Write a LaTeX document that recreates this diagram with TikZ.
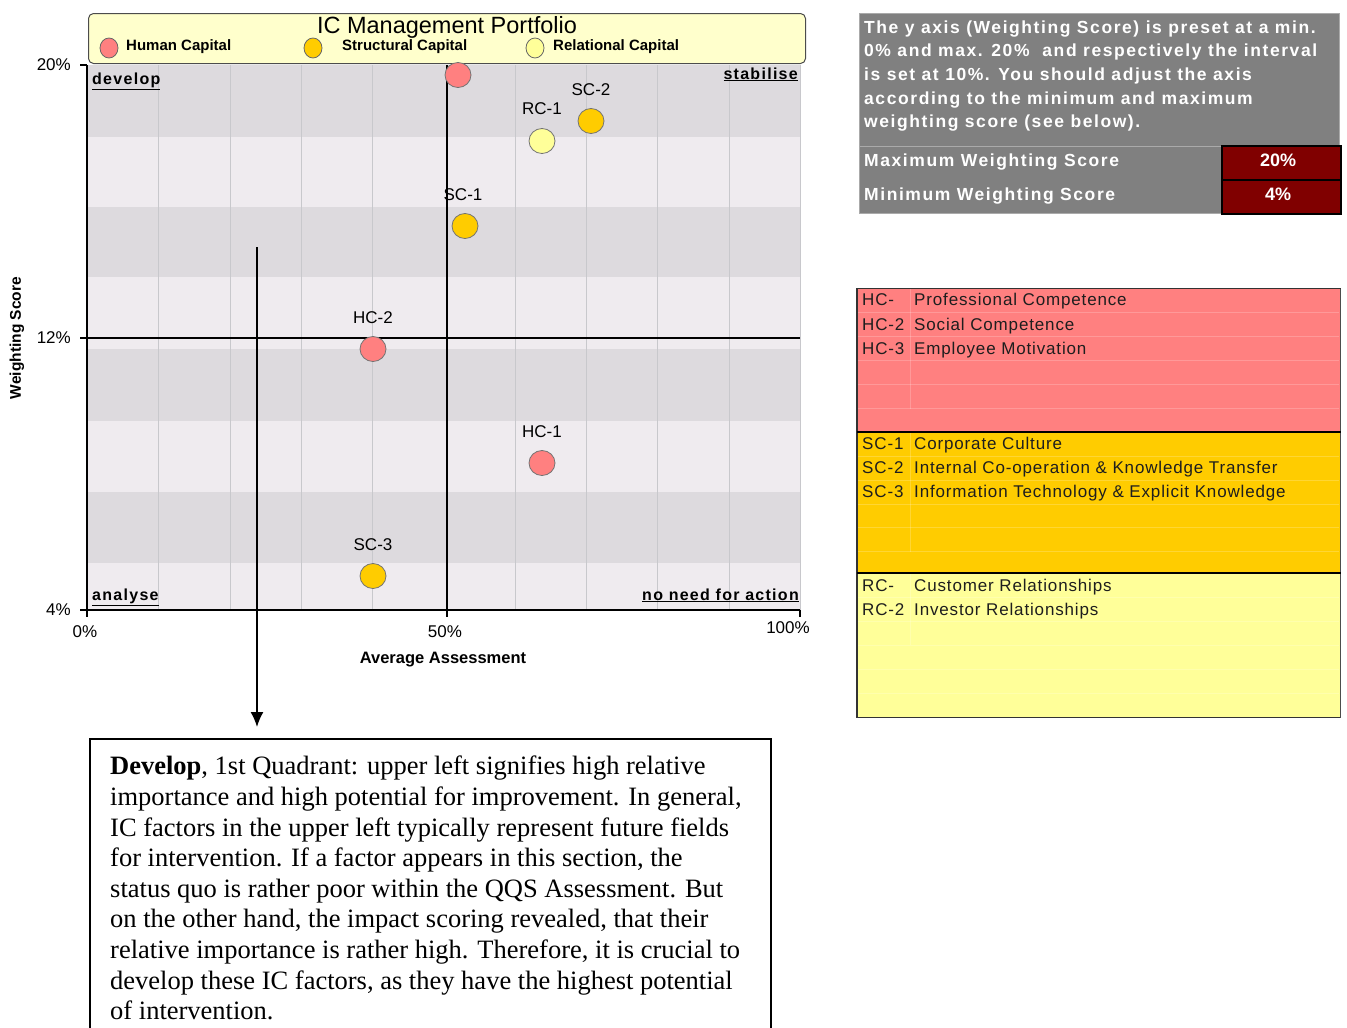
\documentclass[tikz,border=0pt]{standalone}
\usepackage{fontspec}
\setmainfont{Liberation Serif}
\setsansfont{Liberation Sans}
\newfontfamily\chartsans{Liberation Sans}
\newfontfamily\quadsans[LetterSpace=8]{Liberation Sans}
\newfontfamily\panelsans[LetterSpace=9]{Liberation Sans}
\newfontfamily\tablesans[LetterSpace=5]{Liberation Sans}
\usetikzlibrary{shapes.geometric,arrows.meta}

\definecolor{legendfill}{RGB}{255,255,204}
\definecolor{hcred}{RGB}{255,128,128}
\definecolor{scgold}{RGB}{255,204,0}
\definecolor{rcyellow}{RGB}{255,255,153}
\definecolor{bandlight}{RGB}{239,235,239}
\definecolor{banddark}{RGB}{221,218,222}
\definecolor{gridgray}{RGB}{200,200,204}
\definecolor{panelgray}{RGB}{128,128,128}
\definecolor{paneledge}{RGB}{170,170,170}
\definecolor{cellred}{RGB}{128,0,0}
\definecolor{tabletext}{RGB}{30,30,30}

\tikzset{
  pt/.style={ellipse, draw=black!55, line width=0.8pt, inner sep=0pt,
             minimum width=26pt, minimum height=25pt},
  hcpt/.style={pt, fill=hcred},
  scpt/.style={pt, fill=scgold},
  rcpt/.style={pt, fill=rcyellow},
  legdot/.style={ellipse, draw=black!60, line width=0.8pt, inner sep=0pt,
             minimum width=18pt, minimum height=20pt},
  ptlabel/.style={font=\chartsans\fontsize{17}{20}\selectfont, inner sep=0pt},
  ticklabel/.style={font=\chartsans\fontsize{17}{20}\selectfont, inner sep=0pt},
  quadlabel/.style={font=\quadsans\bfseries\fontsize{16}{19}\selectfont, inner sep=0pt},
  legtext/.style={font=\chartsans\bfseries\fontsize{15}{18}\selectfont, inner sep=0pt, anchor=west},
  paneltext/.style={font=\panelsans\bfseries\fontsize{17.5}{20}\selectfont, text=white,
             inner sep=0pt, anchor=base west},
  tabtext/.style={font=\tablesans\fontsize{17}{20}\selectfont, text=tabletext,
             inner sep=0pt, anchor=base west},
  cellval/.style={font=\chartsans\bfseries\fontsize{18}{20}\selectfont, text=white,
             inner sep=0pt, anchor=base},
  rowline/.style={white, opacity=0.2, line width=0.8pt}
}

\begin{document}
\begin{tikzpicture}[x=1pt,y=-1pt]
\clip (0,0) rectangle (1347,1028);
\fill[white] (0,0) rectangle (1347,1028);

% ---------- plot area: bands and grid ----------
\fill[bandlight] (87,65) rectangle (800,610);
\foreach \ya/\yb in {65/137,207/277,349/421,492/563}
  \fill[banddark] (87,\ya) rectangle (800,\yb);
\foreach \gx in {158,230,301,372,515,586,657,729,800}
  \draw[gridgray, line width=0.8pt] (\gx,65) -- (\gx,610);

% quadrant dividers
\draw[black, line width=1.2pt] (447,65) -- (447,610);
\draw[black, line width=1.2pt] (80,338) -- (800,338);

% axes and ticks
\draw[black, line width=1.2pt] (87,65) -- (87,610) -- (800,610);
\draw[black, line width=1.2pt] (80,65) -- (87,65);
\draw[black, line width=1.2pt] (80,610) -- (87,610);
\draw[black, line width=1.2pt] (87,610) -- (87,617);
\draw[black, line width=1.2pt] (447,610) -- (447,617);
\draw[black, line width=1.2pt] (800,610) -- (800,617);

% axis labels
\node[ticklabel, anchor=east] (y20) at (71,65) {20\%};
\node[ticklabel, anchor=east] (y12) at (71,338) {12\%};
\node[ticklabel, anchor=east] (y4) at (71,610) {4\%};
\node[ticklabel] (x0) at (85,632) {0\%};
\node[ticklabel] (x50) at (445,632) {50\%};
\node[ticklabel] (x100) at (788,628) {100\%};
\node[font=\chartsans\bfseries\fontsize{16.5}{19}\selectfont, inner sep=0pt] (xtitle) at (443,660) {Average Assessment};
\node[font=\chartsans\bfseries\fontsize{15.5}{18}\selectfont, inner sep=0pt, rotate=90] (ytitle) at (17,338) {Weighting Score};

% quadrant names
\node[quadlabel, anchor=base west] (qdevelop) at (92,84) {\underline{develop}};
\node[quadlabel, anchor=base east] (qstabilise) at (798,79) {\underline{stabilise}};
\node[quadlabel, anchor=base west] (qanalyse) at (92,600) {\underline{analyse}};
\node[quadlabel, anchor=base east] (qnoneed) at (799,600) {\underline{no need for action}};

% ---------- legend ----------
\node[draw=black!70, line width=1pt, rounded corners=5pt, fill=legendfill, inner sep=0pt,
      minimum width=717pt, minimum height=50pt, anchor=north west] (legend) at (88,13) {};
\node[font=\chartsans\fontsize{23.5}{25}\selectfont, inner sep=0pt] (ltitle) at (447,27) {IC Management Portfolio};
\node[legdot, fill=hcred] (lhc) at (109,48) {};
\node[legtext] (lhctext) at (126,47) {Human Capital};
\node[legdot, fill=scgold] (lsc) at (313,48) {};
\node[legtext] (lsctext) at (342,47) {Structural Capital};
\node[legdot, fill=rcyellow] (lrc) at (535,48) {};
\node[legtext] (lrctext) at (553,47) {Relational Capital};

% ---------- data points ----------
\node[hcpt] (hc3) at (458,75) {};
\node[rcpt] (rc1) at (542,141) {};
\node[ptlabel] (rc1lbl) at (542,109) {RC-1};
\node[scpt] (sc2) at (591,121) {};
\node[ptlabel] (sc2lbl) at (591,90) {SC-2};
\node[scpt] (sc1) at (465,226) {};
\node[ptlabel] (sc1lbl) at (463,195) {SC-1};
\node[hcpt] (hc2) at (373,349) {};
\node[ptlabel] (hc2lbl) at (373,318) {HC-2};
\node[hcpt] (hc1) at (542,463) {};
\node[ptlabel] (hc1lbl) at (542,432) {HC-1};
\node[scpt] (sc3) at (373,576) {};
\node[ptlabel] (sc3lbl) at (373,545) {SC-3};

% ---------- explanation box and pointer ----------
\node[draw=black, line width=1.6pt, inner sep=0pt, minimum width=681pt, minimum height=320pt,
      anchor=north west] (notebox) at (89,738) {};
\node[font=\fontsize{26.5}{30.6}\selectfont, align=left, inner sep=0pt, anchor=north west] (note) at (110,756)
 {\textbf{Develop}, 1st Quadrant: upper left signifies high relative\\
  importance and high potential for improvement. In general,\\
  IC factors in the upper left typically represent future fields\\
  for intervention. If a factor appears in this section, the\\
  status quo is rather poor within the QQS Assessment. But\\
  on the other hand, the impact scoring revealed, that their\\
  relative importance is rather high. Therefore, it is crucial to\\
  develop these IC factors, as they have the highest potential\\
  of intervention.};
\coordinate (pointerstart) at (257,247);
\coordinate (pointerend) at (257,727);
\draw[black, line width=1.6pt, -{Latex[length=15pt,width=13pt]}] (pointerstart) -- (pointerend);

% ---------- axis settings panel ----------
\node[fill=panelgray, draw=paneledge, line width=1pt, inner sep=0pt, minimum width=480pt,
      minimum height=200pt, anchor=north west] (panel) at (859,13) {};
\draw[paneledge, line width=1pt] (859,146) -- (1339,146);
\node[paneltext] (p1) at (864,33) {The y axis (Weighting Score) is preset at a min.};
\node[paneltext] (p2) at (864,56.7) {0\% and max. 20\%\ \ and respectively the interval};
\node[paneltext] (p3) at (864,80.4) {is set at 10\%. You should adjust the axis};
\node[paneltext] (p4) at (864,104) {according to the minimum and maximum};
\node[paneltext] (p5) at (864,127.8) {weighting score (see below).};
\node[paneltext] (pmax) at (864,166.5) {Maximum Weighting Score};
\node[paneltext] (pmin) at (864,200) {Minimum Weighting Score};
\node[fill=cellred, draw=black, line width=2.2pt, inner sep=0pt, minimum width=119pt,
      minimum height=34pt, anchor=north west] (maxcell) at (1221,145) {};
\node[fill=cellred, draw=black, line width=2.2pt, inner sep=0pt, minimum width=119pt,
      minimum height=34pt, anchor=north west] (mincell) at (1221,179) {};
\node[cellval] (maxval) at (1278,166.5) {20\%};
\node[cellval] (minval) at (1278,200) {4\%};

% ---------- factor table ----------
\fill[hcred] (857,288.5) rectangle (1340.5,432);
\fill[scgold] (857,432) rectangle (1340.5,573);
\fill[rcyellow] (857,573) rectangle (1340.5,717.5);
\foreach \ry in {312.5,336.5,360.5,384.5,408.5,456,480.5,504,527.5,551.5,597,621,645,669,693}
  \draw[rowline] (858,\ry) -- (1339,\ry);
\draw[rowline] (910,289) -- (910,408.5);
\draw[rowline] (910,433) -- (910,551.5);
\draw[rowline] (910,574) -- (910,645);
\draw[black!80, line width=1.2pt] (857,288.5) rectangle (1340.5,717.5);
\draw[black!70, line width=1.4pt] (1340.5,288.5) -- (1340.5,717.5);
\draw[black, line width=1.2pt] (857,432) -- (1340.5,432);
\draw[black, line width=1.2pt] (857,573) -- (1340.5,573);

\node[tabtext] (hcAcode) at (862,305.5) {HC-};
\node[tabtext] (hcAname) at (914,305.5) {Professional Competence};
\node[tabtext] (hcBcode) at (862,330) {HC-2};
\node[tabtext] (hcBname) at (914,330) {Social Competence};
\node[tabtext] (hcCcode) at (862,354) {HC-3};
\node[tabtext] (hcCname) at (914,354) {Employee Motivation};
\node[tabtext] (scAcode) at (862,449.3) {SC-1};
\node[tabtext] (scAname) at (914,449.3) {Corporate Culture};
\node[tabtext] (scBcode) at (862,473.7) {SC-2};
\node[tabtext] (scBname) at (914,473.7) {Internal Co-operation \& Knowledge Transfer};
\node[tabtext] (scCcode) at (862,497.3) {SC-3};
\node[tabtext] (scCname) at (914,497.3) {Information Technology \& Explicit Knowledge};
\node[tabtext] (rcAcode) at (862,591) {RC-};
\node[tabtext] (rcAname) at (914,591) {Customer Relationships};
\node[tabtext] (rcBcode) at (862,615) {RC-2};
\node[tabtext] (rcBname) at (914,615) {Investor Relationships};
\end{tikzpicture}
\end{document}
